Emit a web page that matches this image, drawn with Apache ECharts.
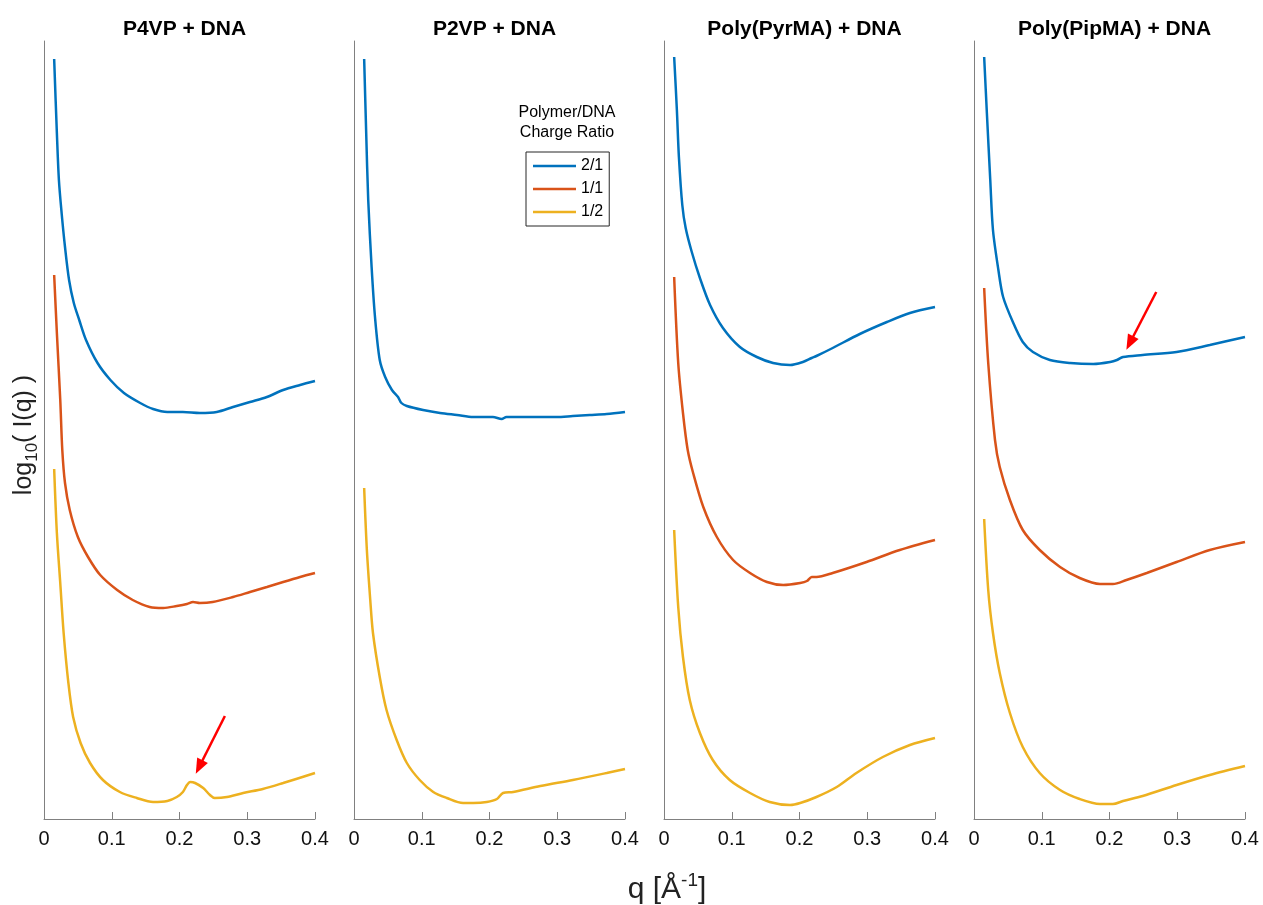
<!DOCTYPE html>
<html><head><meta charset="utf-8">
<script src="https://cdn.jsdelivr.net/npm/echarts@6/dist/echarts.min.js"></script>
<style>html,body{margin:0;padding:0;background:#fff}#c{width:1263px;height:905px}</style>
</head><body><div id="c"></div>
<script>
// ---- data (q in 1/Å, y = log10 I(q), arbitrary offset) ----
const panelTitles = ['P4VP + DNA', 'P2VP + DNA', 'Poly(PyrMA) + DNA', 'Poly(PipMA) + DNA'];
const ratioNames = ['2/1', '1/1', '1/2'];
const ratioColors = ['#0072BD', '#D95319', '#EDB120'];
const xTickMin = 0, xTickMax = 0.4, xTickStep = 0.1;
const yMin = 0, yMax = 7.78;

// P4VP + DNA
const p4vp_21_q = [0.015,0.019,0.022,0.026,0.031,0.037,0.044,0.052,0.062,0.079,0.098,0.118,0.142,0.161,0.182,0.205,0.230,0.255,0.279,0.304,0.329,0.353,0.378,0.400];
const p4vp_21_y = [7.60,6.86,6.39,6.06,5.72,5.39,5.16,4.99,4.79,4.56,4.39,4.26,4.16,4.10,4.07,4.07,4.06,4.07,4.12,4.17,4.22,4.29,4.34,4.38];
const p4vp_11_q = [0.015,0.019,0.024,0.027,0.031,0.038,0.050,0.065,0.083,0.108,0.131,0.156,0.176,0.196,0.211,0.220,0.230,0.249,0.279,0.304,0.329,0.353,0.378,0.400];
const p4vp_11_y = [5.44,4.86,4.19,3.69,3.36,3.09,2.82,2.62,2.44,2.29,2.19,2.12,2.11,2.13,2.15,2.17,2.16,2.17,2.22,2.27,2.32,2.37,2.42,2.46];
const p4vp_12_q = [0.015,0.019,0.024,0.029,0.036,0.043,0.054,0.068,0.087,0.112,0.137,0.161,0.182,0.196,0.205,0.211,0.216,0.223,0.235,0.245,0.252,0.270,0.294,0.323,0.353,0.400];
const p4vp_12_y = [3.50,2.86,2.36,1.86,1.36,1.02,0.76,0.56,0.39,0.27,0.21,0.17,0.18,0.22,0.27,0.34,0.37,0.36,0.31,0.24,0.21,0.22,0.26,0.30,0.36,0.46];

// P2VP + DNA
const p2vp_21_q = [0.015,0.018,0.021,0.026,0.031,0.038,0.046,0.056,0.065,0.070,0.078,0.102,0.127,0.152,0.176,0.205,0.218,0.225,0.249,0.275,0.299,0.323,0.348,0.373,0.400];
const p2vp_21_y = [7.60,6.86,6.19,5.52,5.02,4.59,4.42,4.29,4.22,4.16,4.13,4.09,4.06,4.04,4.02,4.02,4.00,4.02,4.02,4.02,4.02,4.03,4.04,4.05,4.07];
const p2vp_12_q = [0.015,0.019,0.024,0.028,0.038,0.048,0.063,0.078,0.097,0.117,0.137,0.161,0.176,0.196,0.211,0.220,0.235,0.275,0.323,0.373,0.400];
const p2vp_12_y = [3.31,2.69,2.19,1.86,1.42,1.09,0.79,0.56,0.39,0.27,0.21,0.16,0.16,0.17,0.20,0.26,0.27,0.33,0.39,0.46,0.50];

// Poly(PyrMA) + DNA
const pyr_21_q = [0.015,0.019,0.022,0.027,0.032,0.041,0.053,0.068,0.087,0.112,0.137,0.161,0.186,0.205,0.218,0.225,0.249,0.289,0.329,0.363,0.400];
const pyr_21_y = [7.62,7.09,6.62,6.14,5.91,5.67,5.41,5.14,4.91,4.72,4.62,4.56,4.54,4.57,4.61,4.63,4.71,4.85,4.97,5.06,5.12];
const pyr_11_q = [0.015,0.021,0.028,0.035,0.043,0.058,0.078,0.102,0.127,0.152,0.176,0.201,0.211,0.218,0.225,0.249,0.299,0.348,0.400];
const pyr_11_y = [5.42,4.56,4.06,3.69,3.46,3.12,2.82,2.59,2.46,2.37,2.34,2.36,2.38,2.42,2.42,2.46,2.57,2.69,2.79];
const pyr_12_q = [0.015,0.021,0.028,0.038,0.053,0.072,0.097,0.127,0.156,0.186,0.201,0.225,0.255,0.284,0.323,0.363,0.400];
const pyr_12_y = [2.89,2.12,1.62,1.19,0.86,0.59,0.39,0.26,0.17,0.14,0.16,0.22,0.32,0.46,0.62,0.74,0.81];

// Poly(PipMA) + DNA
const pip_21_q = [0.015,0.019,0.024,0.028,0.036,0.043,0.058,0.072,0.087,0.112,0.142,0.176,0.201,0.211,0.220,0.249,0.299,0.348,0.400];
const pip_21_y = [7.62,7.06,6.39,5.89,5.49,5.22,4.96,4.77,4.67,4.59,4.56,4.55,4.57,4.59,4.62,4.64,4.67,4.74,4.82];
const pip_11_q = [0.015,0.021,0.031,0.038,0.053,0.072,0.097,0.127,0.156,0.186,0.205,0.225,0.255,0.299,0.348,0.400];
const pip_11_y = [5.31,4.56,3.79,3.52,3.19,2.89,2.69,2.52,2.41,2.35,2.35,2.39,2.46,2.57,2.69,2.77];
const pip_12_q = [0.015,0.021,0.028,0.038,0.053,0.072,0.097,0.127,0.156,0.186,0.205,0.220,0.249,0.299,0.348,0.400];
const pip_12_y = [3.00,2.29,1.86,1.46,1.06,0.72,0.46,0.29,0.20,0.15,0.15,0.18,0.23,0.34,0.44,0.53];

// red arrows [start, end] in data coords
const arrowP4VP = [[0.267, 1.03], [0.229, 0.52]];
const arrowPipMA = [[0.269, 5.27], [0.230, 4.76]];

// ---- chart ----
const panels = [
  [[p4vp_21_q, p4vp_21_y], [p4vp_11_q, p4vp_11_y], [p4vp_12_q, p4vp_12_y]],
  [[p2vp_21_q, p2vp_21_y], null, [p2vp_12_q, p2vp_12_y]],
  [[pyr_21_q, pyr_21_y], [pyr_11_q, pyr_11_y], [pyr_12_q, pyr_12_y]],
  [[pip_21_q, pip_21_y], [pip_11_q, pip_11_y], [pip_12_q, pip_12_y]]
];
const arrows = {0: {s: 2, a: arrowP4VP}, 3: {s: 0, a: arrowPipMA}};

const FONT = '"Liberation Sans", Arial, Helvetica, sans-serif';
const AXC = '#808080';
const gridLefts = [44, 354, 664, 974];
const gridW = 271, gridTop = 41, gridH = 778;

const zip = (a, b) => a.map((v, i) => [v, b[i]]);

const grids = [], xAxes = [], yAxes = [], titles = [], series = [];
panels.forEach((p, i) => {
  grids.push({left: gridLefts[i], top: gridTop, width: gridW, height: gridH, containLabel: false});
  titles.push({
    text: panelTitles[i], left: gridLefts[i] + gridW / 2, top: 13, textAlign: 'center',
    textStyle: {fontFamily: FONT, fontSize: 21, fontWeight: 'bold', color: '#000', lineHeight: 22}
  });
  xAxes.push({
    type: 'value', gridIndex: i, min: xTickMin, max: xTickMax, interval: xTickStep,
    axisLine: {show: true, lineStyle: {color: AXC, width: 1}},
    axisTick: {show: true, inside: true, length: 7, lineStyle: {color: AXC}},
    axisLabel: {fontFamily: FONT, fontSize: 20, color: '#111', margin: 10,
      formatter: v => (v === 0 ? '0' : (+v.toFixed(1)).toString())},
    splitLine: {show: false}
  });
  yAxes.push({
    type: 'value', gridIndex: i, min: yMin, max: yMax,
    axisLine: {show: true, onZero: false, lineStyle: {color: AXC, width: 1}},
    axisTick: {show: false}, axisLabel: {show: false}, splitLine: {show: false}
  });
  p.forEach((d, k) => {
    if (!d) return;
    const s = {
      type: 'line', name: ratioNames[k], xAxisIndex: i, yAxisIndex: i,
      data: zip(d[0], d[1]), showSymbol: false, symbol: 'none',
      smooth: 0.3,
      lineStyle: {color: ratioColors[k], width: 2.5},
      itemStyle: {color: ratioColors[k]},
      emphasis: {disabled: true}, silent: true, z: 3
    };
    if (arrows[i] && arrows[i].s === k) {
      const a = arrows[i].a;
      s.markLine = {
        silent: true, symbol: ['none', 'triangle'], symbolSize: [12, 15],
        label: {show: false}, emphasis: {disabled: true},
        lineStyle: {color: '#FF0000', width: 2.5, type: 'solid'},
        itemStyle: {color: '#FF0000'},
        data: [[{coord: a[0]}, {coord: a[1]}]]
      };
    }
    series.push(s);
  });
});

const chart = echarts.init(document.getElementById('c'), null, {renderer: 'canvas'});
chart.setOption({
  animation: false,
  backgroundColor: '#fff',
  title: titles,
  grid: grids, xAxis: xAxes, yAxis: yAxes, series: series,
  legend: {
    data: ratioNames, left: 526, top: 152, orient: 'vertical',
    icon: 'rect', itemWidth: 43, itemHeight: 2.5, itemGap: 7,
    padding: [6, 6, 6, 7], borderColor: '#262626', borderWidth: 1, borderRadius: 0,
    backgroundColor: '#fff', selectedMode: false,
    textStyle: {fontFamily: FONT, fontSize: 16, color: '#000', lineHeight: 16}
  },
  graphic: [
    {type: 'text', x: 567, y: 103, z: 10,
      style: {text: 'Polymer/DNA\nCharge Ratio', fontFamily: FONT, fontSize: 16, lineHeight: 20,
        fill: '#000', align: 'center', verticalAlign: 'top'}},
    {type: 'text', x: 24, y: 435, rotation: Math.PI / 2, z: 10,
      style: {
        text: '{a|log}{s|10}{a|( I(q) )}', align: 'center', verticalAlign: 'middle',
        rich: {
          a: {fontFamily: FONT, fontSize: 25, lineHeight: 34, fill: '#222', color: '#222'},
          s: {fontFamily: FONT, fontSize: 17, lineHeight: 17, verticalAlign: 'bottom', fill: '#222', color: '#222'}
        }
      }},
    {type: 'text', x: 667, y: 890, z: 10,
      style: {
        text: '{a|q [Å}{s|-1}{a|]}', align: 'center', verticalAlign: 'middle',
        rich: {
          a: {fontFamily: FONT, fontSize: 30, lineHeight: 38, fill: '#222', color: '#222'},
          s: {fontFamily: FONT, fontSize: 19, lineHeight: 19, verticalAlign: 'top', fill: '#222', color: '#222'}
        }
      }}
  ]
});
</script></body></html>
